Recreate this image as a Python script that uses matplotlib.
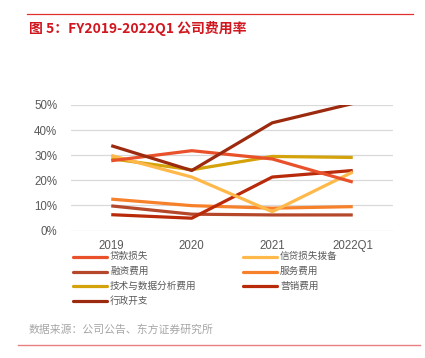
import matplotlib
matplotlib.use("Agg")
import matplotlib.pyplot as plt
from matplotlib.lines import Line2D
from matplotlib.ticker import FuncFormatter

categories = ["2019", "2020", "2021", "2022Q1"]
loan_loss = [27.8, 31.8, 28.5, 19.3]
credit_provision = [29.9, 21.3, 7.5, 23.3]
financing_cost = [9.8, 6.5, 6.2, 6.2]
service_cost = [12.5, 9.9, 8.9, 9.5]
tech_cost = [28.6, 24.2, 29.5, 29.1]
marketing_cost = [6.3, 4.9, 21.3, 23.9]
admin_cost = [33.8, 23.9, 42.9, 50.6]

series_names = ["贷款损失", "信贷损失拨备", "融资费用", "服务费用",
                "技术与数据分析费用", "营销费用", "行政开支"]
series_values = [loan_loss, credit_provision, financing_cost, service_cost,
                 tech_cost, marketing_cost, admin_cost]
colors = ["#e8512a", "#ffb84a", "#b5472a", "#f7802a",
          "#d4a20a", "#b82a0a", "#9c2a0e"]

plt.rcParams['font.family'] = ['Liberation Sans', 'Noto Sans CJK SC', 'DejaVu Sans']
cjk = ['Noto Sans CJK SC', 'DejaVu Sans']

W, H = 425, 358
fig = plt.figure(figsize=(W / 100, H / 100), dpi=100)

def fx(px):
    return px / W

def fy(py):
    return 1 - py / H

# axes: x 71..393, y 105..230.5 (pixels from top)
ax = fig.add_axes([fx(71), fy(230.5), (393 - 71) / W, (230.5 - 105) / H])
x = list(range(len(categories)))
draw_order = [2, 3, 5, 4, 1, 0, 6]
for i in draw_order:
    ax.plot(x, series_values[i], color=colors[i], lw=2.3, solid_capstyle='butt', zorder=3)

ax.set_xlim(-0.5, len(categories) - 0.5)
ax.set_ylim(0, 50)
ax.set_yticks([0, 10, 20, 30, 40, 50])
ax.yaxis.set_major_formatter(FuncFormatter(lambda v, p: f"{int(v)}%"))
ax.set_xticks(x)
ax.set_xticklabels(categories)
ax.grid(axis='y', color='#d9d9d9', lw=0.9, zorder=0)
ax.set_axisbelow(True)
for s in ax.spines.values():
    s.set_visible(False)
ax.tick_params(axis='both', length=0, labelsize=8.3, labelcolor='#595959')
ax.tick_params(axis='y', pad=10)
ax.tick_params(axis='x', pad=7)

# legend, row-major in two columns, drawn manually
row_y = [256.7, 271.5, 286.3, 301.0]
col_x = [(73, 107, 110), (243, 277, 280)]
for k, (name, c) in enumerate(zip(series_names, colors)):
    r, cidx = divmod(k, 2)
    x0, x1, tx = col_x[cidx]
    y = row_y[r]
    fig.add_artist(Line2D([fx(x0), fx(x1)], [fy(y), fy(y)], color=c, lw=2.3,
                          solid_capstyle='round'))
    fig.text(fx(tx), fy(y), name, family=cjk, fontsize=6.9, color='#595959',
             va='center', ha='left')

# title and lines
fig.add_artist(Line2D([fx(27), fx(413)], [fy(14), fy(14)], color='#e03030', lw=0.9))
fig.text(fx(29), fy(28), "图 5：FY2019-2022Q1 公司费用率", family=cjk, fontsize=10,
         fontweight='bold', color='#d0161e', va='center', ha='left')
fig.text(fx(29), fy(330), "数据来源：公司公告、东方证券研究所", family=cjk, fontsize=7.8,
         color='#a6a6a6', va='center', ha='left')
fig.add_artist(Line2D([fx(18), fx(420)], [fy(345), fy(345)], color='#e88080', lw=1.0))

fig.savefig("out.png", dpi=100)
